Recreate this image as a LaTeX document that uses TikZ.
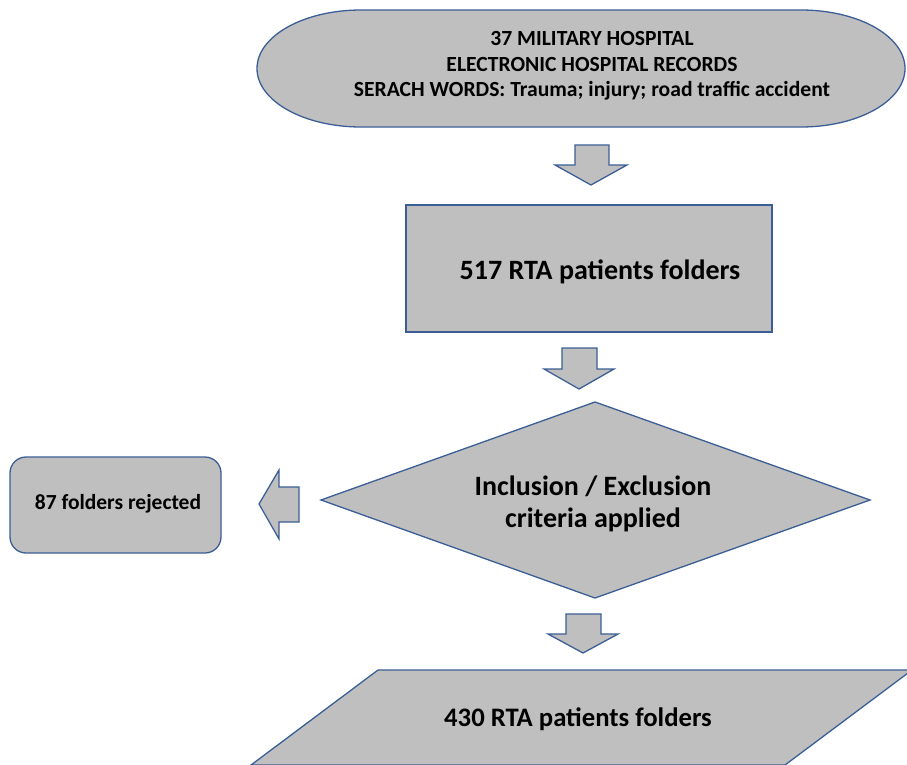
\documentclass[tikz,border=0pt]{standalone}
\usepackage{fontspec}
\setmainfont{Carlito}
\definecolor{shapefill}{HTML}{BFBFBF}
\definecolor{shapeline}{HTML}{3B5E96}
\tikzset{
  shp/.style={fill=shapefill, draw=shapeline, line width=1.3pt, line join=miter},
  txt/.style={inner sep=0pt, font=\bfseries, text=black, align=center},
}
\begin{document}
\begin{tikzpicture}[x=1pt,y=-1pt]
\useasboundingbox (0,0) rectangle (907,765);
\clip (0,0) rectangle (907,765);
% terminator
\draw[shp] (361,10) -- (801,10) arc[start angle=-90, end angle=90, x radius=104, y radius=58.5]
  -- (361,127) arc[start angle=90, end angle=270, x radius=104, y radius=58.5] -- cycle;
\node[txt, font=\fontsize{21.6}{25.5}\selectfont\bfseries] (src) at (592,66)
  {37 MILITARY HOSPITAL\\ELECTRONIC HOSPITAL RECORDS\\SERACH WORDS: Trauma; injury; road traffic accident};
% arrow 1
\draw[shp] (575,145) -- (609,145) -- (609,165) -- (627,165) -- (591,185) -- (555,165) -- (575,165) -- cycle;
% rectangle
\node[shp, rectangle, minimum width=366pt, minimum height=127pt, inner sep=0pt] (box517) at (589,268.5) {};
\node[txt, font=\fontsize{28}{32}\selectfont\bfseries] (t517) at (600,272) {517 RTA patients folders};
% arrow 2
\draw[shp] (562,348) -- (597,348) -- (597,369) -- (614,369) -- (579,389) -- (544,369) -- (562,369) -- cycle;
% diamond
\coordinate (dT) at (595,402);
\coordinate (dR) at (870,500);
\coordinate (dB) at (595,598);
\coordinate (dL) at (321,500);
\draw[shp] (dT) -- (dR) -- (dB) -- (dL) -- cycle;
\node[txt, font=\fontsize{28}{32}\selectfont\bfseries] (crit) at (593,504) {Inclusion / Exclusion\\criteria applied};
% left arrow
\draw[shp] (299,487) -- (299,522) -- (279,522) -- (279,539) -- (259,504) -- (279,470) -- (279,487) -- cycle;
% rejected box
\node[shp, rectangle, rounded corners=16pt, minimum width=211pt, minimum height=96pt, inner sep=0pt] (rej) at (115.5,505) {};
\node[txt, font=\fontsize{21.5}{24}\selectfont\bfseries] (trej) at (118,504) {87 folders rejected};
% arrow 3
\draw[shp] (566,614) -- (601,614) -- (601,634) -- (618,634) -- (583,653) -- (548,634) -- (566,634) -- cycle;
% parallelogram
\coordinate (pTL) at (378,670);
\coordinate (pTR) at (912,670);
\coordinate (pBR) at (785,765);
\coordinate (pBL) at (251,765);
\draw[shp] (pTL) -- (pTR) -- (pBR) -- (pBL) -- cycle;
\node[txt, font=\fontsize{26.7}{30}\selectfont\bfseries] (t430) at (578,719) {430 RTA patients folders};
\end{tikzpicture}
\end{document}
